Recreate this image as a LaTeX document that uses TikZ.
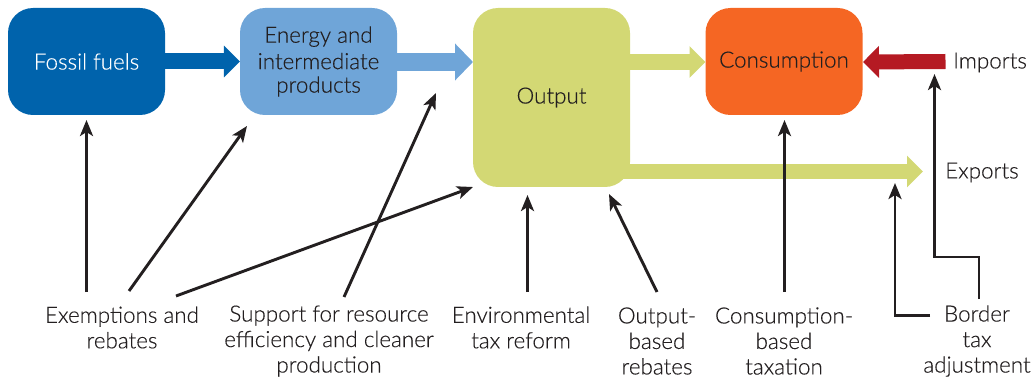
\documentclass[tikz,border=0pt]{standalone}
\usepackage{fontspec}
\setmainfont{Lato Light}[FakeBold=0.25]
\usetikzlibrary{arrows.meta}
\definecolor{inkc}{HTML}{231F20}
\definecolor{fossilc}{HTML}{0063AC}
\definecolor{energyc}{HTML}{6FA5D8}
\definecolor{outputc}{HTML}{D3D874}
\definecolor{consc}{HTML}{F56623}
\definecolor{redc}{HTML}{B51A23}
\tikzset{
  x=1pt,y=-1pt,
  boxn/.style={rounded corners=25pt,minimum width=157pt,minimum height=107pt,inner sep=0pt,text=inkc,align=center,font=\fontsize{22.4}{25.5}\selectfont},
  lab/.style={text=inkc,align=center,inner sep=0pt,font=\fontsize{22.4}{25.5}\selectfont},
  flow/.style={line width=16pt,-{Triangle[length=16pt,width=31pt]}},
  pol/.style={draw=inkc,line width=2.9pt,-{Stealth[length=16pt,width=13pt,inset=4pt]}},
}
\begin{document}
\begin{tikzpicture}
\useasboundingbox (0,0) rectangle (1034,377);
\node[boxn,fill=fossilc,text=white] (fossil) at (86.5,61.5) {\raisebox{-1pt}{Fossil fuels}};
\node[boxn,fill=energyc] (energy) at (318.5,61.5) {\raisebox{-1pt}{\shortstack[c]{\rule{0pt}{16pt}Energy and\\[3pt]intermediate\\[4pt]products}}};
\node[boxn,fill=outputc,minimum height=179pt] (output) at (551.5,97.5) {\raisebox{-1pt}{Output}};
\node[boxn,fill=consc] (cons) at (784,61.5) {\raisebox{-1pt}{Consumption}};
\node[lab,anchor=west] (imports) at (953,62.5) {Imports};
\node[lab,anchor=west] (exports) at (945,172.5) {Exports};
\node[lab] (exempt) at (122,327.5) {Exemptions and\\rebates};
\node[lab] (support) at (329,341) {Support for resource\\efficiency and cleaner\\production};
\node[lab] (envtax) at (521,327.5) {Environmental\\tax reform};
\node[lab] (outreb) at (657,341) {Output-\\based\\rebates};
\node[lab] (constax) at (784,341) {Consumption-\\based\\taxation};
\node[lab] (border) at (977,341) {Border\\tax\\adjustment};
% free ends
\coordinate (impstart) at (945.5,61.5);
\coordinate (expstart) at (622,171.5);
\coordinate (exptip) at (923,171.5);
\coordinate (outa) at (630,62);
\coordinate (enb) at (397,62);
\coordinate (enc) at (473,62);
\coordinate (consin) at (705.5,62);
\coordinate (consr) at (863,62);
% block flows
\draw[flow,draw=fossilc] (fossil.east) -- (energy.west);
\draw[flow,draw=energyc,line width=18pt,-{Triangle[length=18pt,width=36pt]}] (enb) -- (enc);
\draw[flow,draw=outputc] (outa) -- (consin);
\draw[flow,draw=redc,line width=15pt] (impstart) -- (consr);
\draw[flow,draw=outputc,line width=15.5pt] (expstart) -- (exptip);
% policy arrows
\coordinate (e1) at (86.5,292); \coordinate (e1t) at (86.5,120);
\coordinate (e2) at (129,291); \coordinate (e2t) at (247,126);
\coordinate (e3) at (176,296); \coordinate (e3t) at (473,187);
\coordinate (s1) at (344,297); \coordinate (s1t) at (436,93);
\coordinate (v1) at (527.5,292); \coordinate (v1t) at (527.5,195);
\coordinate (o1) at (657,292); \coordinate (o1t) at (609,194);
\coordinate (c1) at (784.5,292); \coordinate (c1t) at (784.5,120);
\coordinate (b1) at (930,315.5); \coordinate (b1c) at (895,315.5); \coordinate (b1t) at (895,183);
\coordinate (b2) at (979,299); \coordinate (b2c) at (979,257); \coordinate (b2d) at (934.5,257); \coordinate (b2t) at (934.5,74);
\draw[pol] (e1) -- (e1t);
\draw[pol] (e2) -- (e2t);
\draw[pol] (e3) -- (e3t);
\draw[pol] (s1) -- (s1t);
\draw[pol] (v1) -- (v1t);
\draw[pol] (o1) -- (o1t);
\draw[pol] (c1) -- (c1t);
\draw[pol] (b1) -- (b1c) -- (b1t);
\draw[pol] (b2) -- (b2c) -- (b2d) -- (b2t);
\end{tikzpicture}
\end{document}
